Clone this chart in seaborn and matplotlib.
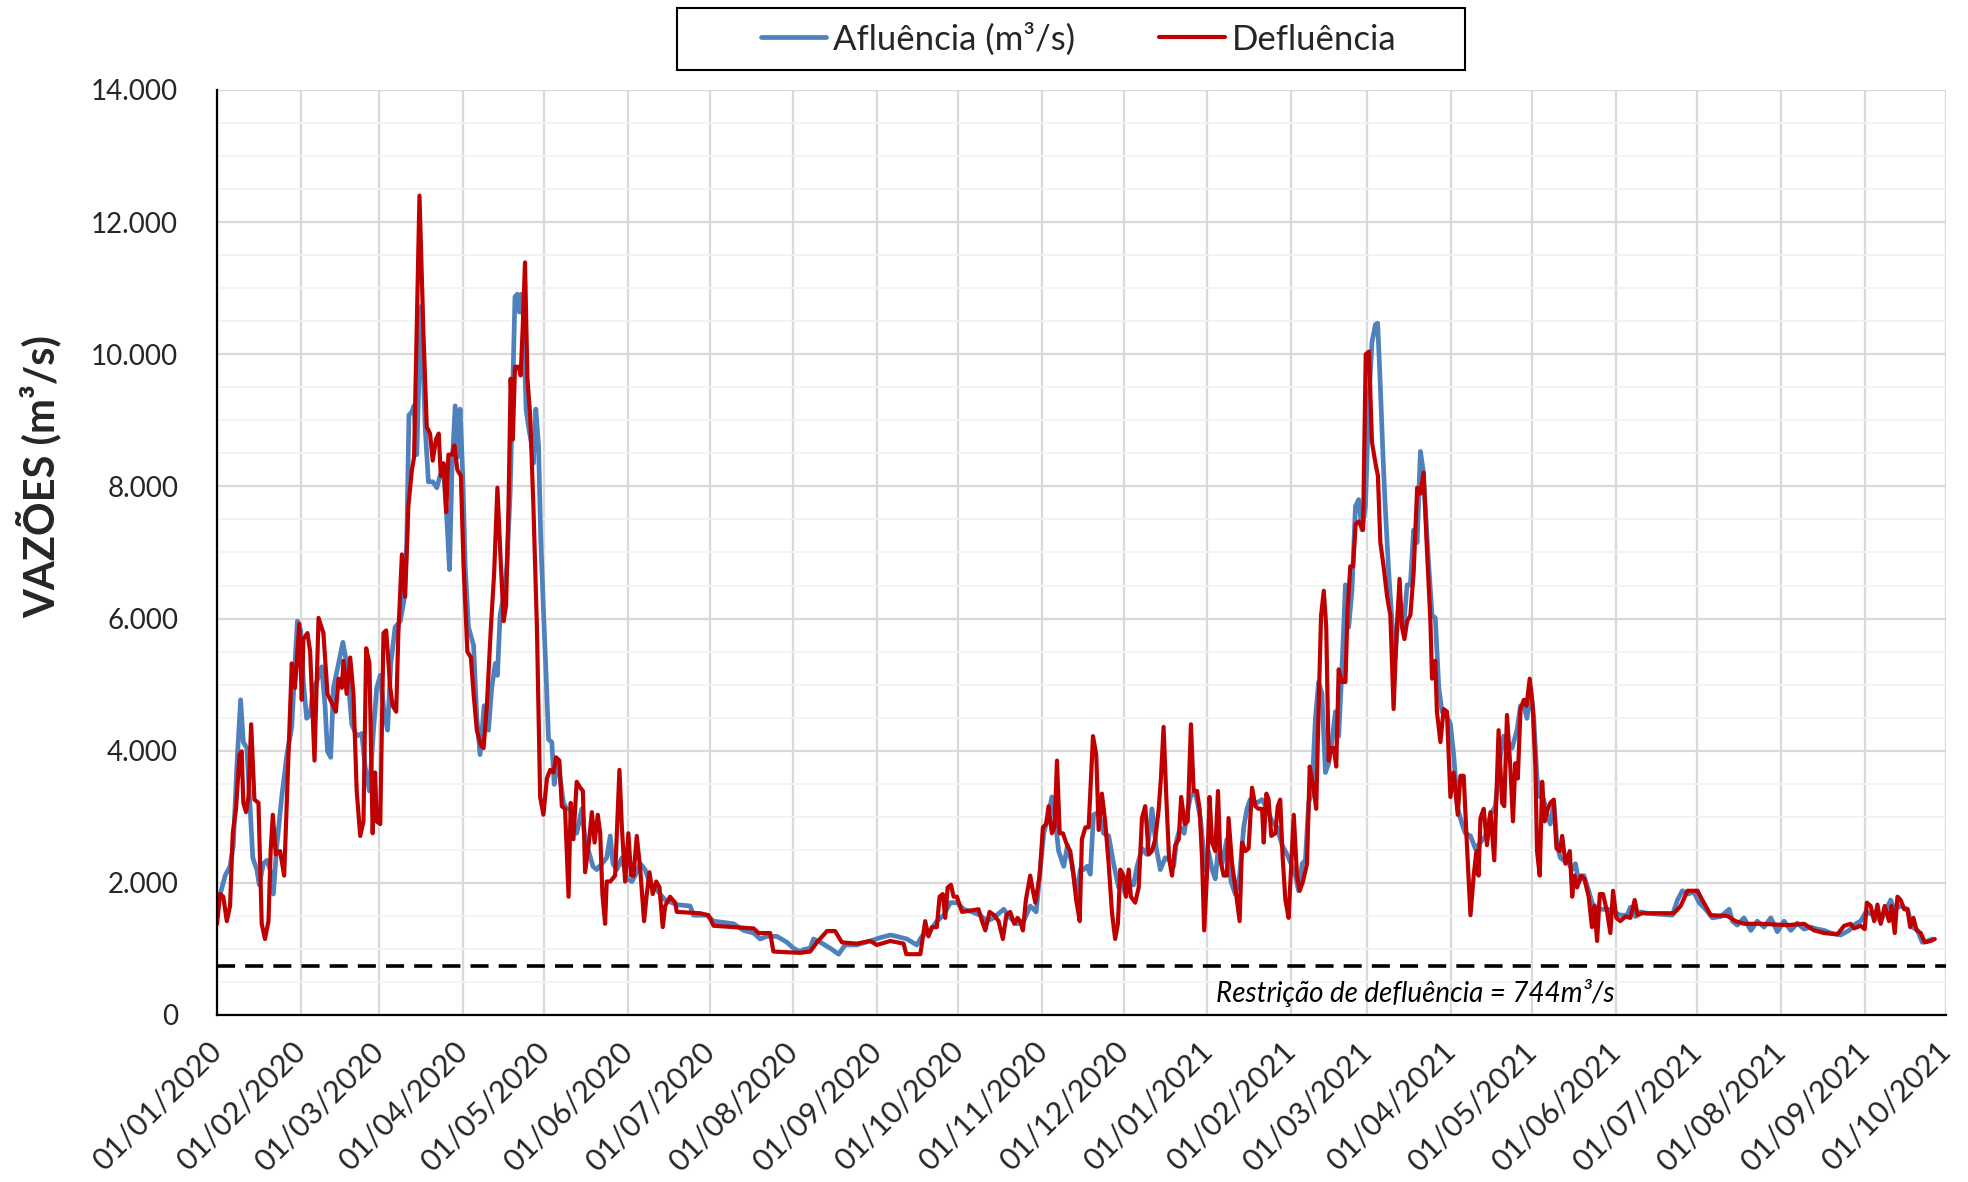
import pandas as pd
import matplotlib
import matplotlib.pyplot as plt
import matplotlib.dates as mdates
import seaborn as sns
from matplotlib.ticker import FuncFormatter, MultipleLocator
from matplotlib.patches import Rectangle

matplotlib.use('Agg')

# ==========================================
# DADOS (dias desde 01/01/2020, vazões em m³/s)
# ==========================================
INICIO = "2020-01-01"
RESTRICAO = 744

dias_afl = [
    0, 3.0, 4.8, 6.0, 7.3, 8.7, 9.7, 11.0, 12.0, 13.2, 14.7, 15.6, 17.1, 18.4, 19.6, 20.8,
    22.1, 23.9, 25.8, 27.6, 28.8, 29.7, 30.9, 31.9, 33.1, 34.4, 35.6, 36.8, 38.7, 39.9, 40.8,
    42.0, 43.0, 44.9, 46.5, 47.9, 49.8, 51.6, 53.5, 54.7, 56.3, 57.8, 59.0, 60.3, 61.7, 63.0,
    64.2, 65.8, 67.7, 69.1, 70.1, 70.9, 72.0, 72.8, 73.8, 74.8, 75.5, 76.9, 78.1, 79.7, 81.2,
    82.4, 83.7, 84.9, 85.9, 86.8, 88.0, 88.8, 89.8, 90.8, 91.7, 92.9, 94.8, 96.0, 97.2, 98.7,
    100.3, 101.5, 102.8, 103.6, 104.6, 105.9, 107.1, 108.3, 109.3, 110.1, 111.0, 111.7, 112.5,
    113.2, 114.2, 115.1, 116.3, 116.9, 117.8, 118.8, 119.6, 120.6, 121.6, 122.5, 123.7, 124.6,
    125.5, 126.8, 128.0, 129.2, 130.5, 131.7, 132.9, 134.8, 136.0, 137.3, 138.9, 140.3, 142.2,
    144.0, 145.3, 146.3, 147.7, 149.6, 151.4, 153.3, 154.5, 156.4, 158.2, 160.1, 161.9, 163.7,
    165.6, 168.1, 169.9, 174.8, 176.1, 181.0, 183.5, 190.9, 194.6, 198.3, 200.7, 203.2, 206.9,
    210.6, 213.0, 215.5, 216.7, 219.2, 220.4, 222.9, 226.6, 229.7, 232.1, 236.4, 241.4, 245.1,
    248.8, 251.2, 254.9, 258.6, 260.5, 263.6, 266.0, 268.5, 271.0, 273.4, 275.9, 279.0, 282.0,
    284.5, 287.0, 290.7, 293.1, 295.6, 298.1, 300.5, 302.7, 304.2, 305.5, 307.3, 308.5, 309.8,
    311.0, 312.9, 314.3, 315.9, 317.8, 319.0, 320.2, 321.5, 322.7, 323.9, 325.8, 327.6, 329.5,
    331.3, 333.2, 334.4, 335.6, 336.9, 338.7, 340.0, 341.8, 343.6, 345.5, 347.1, 348.6, 350.4,
    352.0, 353.5, 354.7, 356.0, 357.4, 358.4, 359.7, 361.5, 363.4, 365.2, 366.4, 367.7, 368.9,
    370.1, 371.4, 373.2, 374.7, 376.3, 377.9, 379.4, 380.6, 381.8, 384.3, 386.2, 388.0, 389.9,
    391.7, 393.6, 395.4, 396.9, 398.5, 399.7, 401.0, 402.2, 403.4, 404.6, 405.9, 407.1, 408.3,
    409.6, 410.8, 412.0, 413.3, 414.5, 415.7, 417.0, 418.2, 419.4, 420.7, 421.9, 423.1, 424.4,
    425.6, 426.8, 428.1, 428.9, 429.7, 430.9, 431.7, 433.0, 434.2, 435.4, 436.7, 438.5, 439.8,
    441.0, 442.2, 443.5, 444.7, 445.7, 446.5, 447.8, 449.0, 450.2, 451.5, 452.7, 453.9, 455.8,
    457.0, 458.5, 460.1, 461.3, 463.2, 465.0, 466.9, 468.7, 470.6, 472.4, 474.3, 475.5, 477.0,
    478.6, 480.4, 481.7, 482.9, 484.1, 485.4, 486.6, 487.8, 489.0, 490.3, 491.5, 492.7, 494.0,
    495.2, 496.4, 497.7, 498.9, 500.8, 502.0, 503.2, 505.1, 506.9, 508.1, 510.0, 512.5, 514.3,
    516.2, 518.6, 521.1, 522.3, 524.2, 526.0, 528.5, 537.8, 539.7, 541.5, 543.4, 545.8, 547.7,
    550.1, 552.6, 555.7, 558.8, 560.0, 561.8, 564.3, 566.8, 569.2, 571.7, 574.2, 576.6, 579.1,
    581.6, 584.0, 586.5, 589.0, 591.4, 593.9, 596.3, 600.0, 603.1, 605.6, 607.4, 609.3, 612.4,
    614.8, 618.5, 619.8, 622.2, 624.7, 626.5, 628.4, 630.2, 632.1, 633.9,
]
vazao_afl = [
    1650, 2110, 2250, 2570, 3760, 4770, 4130, 4040, 3300, 2380, 2200, 1970, 2290, 2340, 2200, 1830,
    2570, 3300, 3940, 4360, 5320, 5960, 5820, 5040, 4490, 4540, 4950, 5040, 5270, 4680, 3990,
    3900, 4950, 5320, 5640, 5320, 4400, 4220, 4260, 3760, 3390, 4310, 4950, 5140, 4590, 4310,
    5320, 5870, 5960, 6280, 7150, 9080, 9130, 9220, 8480, 9900, 10730, 8900, 8070, 8070, 7980,
    8160, 8250, 7520, 6740, 8250, 9220, 8440, 9170, 8160, 6790, 5870, 5590, 4490, 3940, 4680,
    4310, 4950, 5320, 5140, 6050, 6330, 6790, 7890, 9540, 10870, 10910, 10640, 10910,
    10550, 9170, 8900, 8620, 8350, 9170, 8620, 7250, 6140, 5140, 4170, 4130, 3490,
    3850, 3580, 3210, 3120, 3120, 2840, 2750, 3120, 2660, 2480, 2250, 2200, 2290,
    2380, 2710, 2290, 2200, 2380, 2060, 2020, 2110, 2290, 2200, 1970, 1930, 1830,
    1740, 1700, 1670, 1650, 1510, 1510, 1420, 1380, 1280, 1240, 1150, 1190, 1190,
    1100, 1010, 960, 990, 1010, 1150, 1100, 1010, 920, 1060, 1060, 1120, 1170,
    1210, 1190, 1150, 1060, 1190, 1280, 1420, 1510, 1700, 1700, 1600, 1560, 1510,
    1420, 1470, 1600, 1470, 1380, 1420, 1650, 1560, 2200, 2750, 3030, 3300, 2930,
    2480, 2250, 2570, 2290, 1790, 2200, 2200, 2250, 2130, 3030, 3070, 2750, 2710,
    2290, 1930, 2020, 1830, 1970, 1970, 2250, 2520, 2430, 3120, 2520, 2200, 2380,
    2340, 2250, 2660, 2840, 2750, 3030, 3300, 3390, 2980, 2200, 2480, 2200, 2060,
    2570, 2290, 2660, 2020, 1830, 2110, 2840, 3120, 3260, 3210, 3260, 3120, 2930,
    2840, 2570, 2430, 2290, 2110, 1880, 2290, 2340, 3210, 3390, 4490, 5040, 4860,
    3670, 3810, 4130, 4590, 4220, 5230, 6510, 5870, 6420, 7700, 7800, 7340, 7700,
    9260, 10180, 10450, 10470, 9720, 8440, 7700, 6690, 5960, 5410, 6240, 5870, 6510,
    6510, 7340, 7150, 8530, 8250, 7700, 6790, 6050, 6010, 4950, 4590, 4590, 4400,
    3940, 3120, 2890, 2750, 2710, 2520, 2610, 2710, 3030, 3160, 3940, 4220, 4130,
    4040, 4310, 4680, 4680, 4490, 4950, 4490, 3580, 3300, 3260, 3030, 2890, 3210,
    2570, 2380, 2340, 2340, 2200, 2290, 2020, 2110, 1880, 1700, 1600, 1600, 1600,
    1560, 1510, 1510, 1630, 1490, 1560, 1540, 1510, 1740, 1880, 1830, 1860, 1700,
    1600, 1470, 1490, 1600, 1420, 1360, 1470, 1280, 1420, 1330, 1470, 1260, 1420,
    1280, 1390, 1300, 1330, 1300, 1280, 1240, 1210, 1280, 1380, 1420, 1560, 1510,
    1420, 1740, 1600, 1650, 1600, 1330, 1280, 1100, 1120, 1150,
]

dias_defl = [
    0, 1.1, 2.3, 3.6, 4.8, 5.8, 7.0, 8.3, 9.1, 9.7, 10.7, 11.6, 12.6, 13.8, 15.3, 16.5, 17.7,
    19.0, 19.8, 20.6, 21.7, 23.3, 24.8, 26.4, 27.6, 28.8, 30.4, 31.3, 31.9, 33.4, 34.4, 36.0,
    37.5, 39.3, 40.8, 42.4, 43.9, 44.9, 46.1, 46.7, 47.9, 49.2, 50.4, 51.6, 52.9, 54.1, 55.1,
    56.3, 57.5, 58.4, 59.0, 60.3, 61.5, 62.5, 64.0, 64.9, 66.2, 67.0, 68.3, 69.5, 70.7, 72.0,
    72.8, 73.8, 74.8, 76.3, 77.5, 78.7, 79.7, 80.9, 81.9, 82.7, 83.7, 84.7, 85.5, 86.8, 87.7,
    88.8, 90.1, 91.1, 92.5, 93.8, 94.8, 96.0, 97.5, 98.5, 99.7, 101.2, 102.4, 103.6, 104.6,
    105.9, 106.8, 107.7, 108.5, 109.3, 110.1, 111.4, 112.2, 113.0, 113.8, 114.7, 115.7, 116.9,
    118.2, 119.4, 120.6, 121.9, 123.1, 124.3, 125.3, 126.5, 127.4, 128.6, 129.9, 130.7, 131.7,
    132.9, 134.2, 135.2, 136.0, 137.3, 138.5, 139.5, 140.7, 141.6, 142.4, 143.4, 144.0, 145.3,
    147.1, 148.7, 149.6, 150.8, 152.0, 153.0, 153.9, 155.1, 156.4, 157.8, 158.8, 159.8, 161.0,
    162.3, 163.5, 164.7, 165.6, 167.4, 169.3, 169.9, 178.5, 181.6, 183.5, 190.9, 198.3, 200.1,
    204.4, 205.6, 215.5, 219.2, 221.7, 225.4, 228.4, 230.9, 236.4, 241.4, 243.8, 248.8, 253.7,
    254.7, 259.9, 261.7, 262.9, 264.2, 266.0, 267.0, 268.2, 269.1, 270.0, 271.2, 272.2, 273.4,
    275.3, 278.3, 281.4, 282.7, 283.9, 285.5, 287.2, 288.8, 290.4, 291.7, 293.1, 294.6, 295.8,
    296.8, 297.8, 298.9, 300.5, 301.5, 302.4, 304.0, 305.2, 306.4, 307.3, 308.5, 309.5, 310.4,
    311.4, 312.6, 314.1, 315.3, 316.5, 317.5, 318.8, 319.6, 320.9, 322.1, 323.7, 324.9, 325.8,
    327.0, 328.2, 329.5, 330.7, 331.9, 332.9, 333.8, 335.0, 335.9, 336.9, 337.7, 339.3, 340.6,
    341.8, 343.0, 344.3, 345.5, 346.7, 348.0, 348.8, 349.8, 350.8, 351.8, 352.9, 354.1, 355.4,
    356.3, 357.6, 358.7, 359.9, 360.9, 362.1, 363.1, 364.0, 364.8, 365.8, 366.8, 367.7, 368.9,
    369.9, 370.8, 372.0, 373.2, 373.8, 375.1, 376.3, 377.9, 378.8, 380.0, 381.2, 382.5, 383.7,
    384.9, 386.2, 386.8, 387.8, 388.6, 389.6, 391.1, 392.0, 392.9, 393.8, 394.8, 396.0, 396.9,
    397.9, 399.1, 400.1, 401.3, 402.8, 403.8, 405.0, 406.2, 407.1, 408.0, 409.0, 409.9, 410.8,
    411.7, 412.7, 413.6, 414.5, 415.7, 417.0, 417.8, 418.8, 419.8, 420.8, 421.9, 423.5, 424.5,
    425.7, 426.8, 428.1, 429.0, 429.9, 431.1, 432.4, 433.6, 434.8, 435.8, 437.0, 437.9, 438.8,
    439.8, 441.0, 442.2, 443.5, 444.7, 445.9, 447.1, 448.4, 449.0, 450.2, 450.8, 452.1, 453.3,
    454.5, 455.8, 457.0, 458.5, 459.5, 460.7, 461.9, 463.2, 464.4, 465.4, 466.2, 466.9, 468.1,
    469.3, 470.6, 472.0, 473.6, 474.9, 475.7, 476.7, 478.0, 478.9, 479.8, 480.7, 481.7, 482.9,
    483.9, 485.1, 486.2, 487.2, 487.8, 488.8, 489.7, 490.6, 491.8, 492.7, 494.0, 495.0, 496.2,
    497.1, 498.3, 499.9, 500.8, 501.6, 502.6, 504.1, 505.3, 506.9, 508.1, 509.0, 510.0, 511.0,
    512.2, 513.7, 514.9, 515.9, 517.1, 518.6, 520.5, 522.3, 523.9, 525.0, 526.6, 538.4, 540.9,
    543.4, 547.1, 548.9, 552.0, 558.1, 561.2, 564.3, 570.5, 580.3, 586.5, 590.2, 593.9, 598.8,
    601.3, 603.7, 605.0, 607.4, 608.9, 609.7, 611.1, 612.4, 613.6, 614.8, 616.3, 617.9, 618.8,
    620.0, 621.0, 622.2, 623.5, 624.7, 625.7, 626.9, 628.1, 629.6, 631.1, 633.3, 634.8,
]
vazao_defl = [
    1380, 1830, 1790, 1420, 1650, 2750, 3120, 3940, 3990, 3210, 3070, 3300, 4400, 3260, 3210, 1380, 1150,
    1420, 2480, 3030, 2430, 2480, 2110, 3940, 5320, 4950, 5920, 4770, 5690, 5780, 5500, 3850,
    6010, 5780, 4860, 4720, 4590, 5090, 4950, 5360, 4860, 5410, 4860, 3390, 2710, 2930, 5550,
    5320, 2750, 3670, 2930, 2890, 5780, 5820, 4950, 4680, 4590, 5780, 6970, 6330, 7700, 8250,
    8440, 10450, 12400, 10270, 8900, 8800, 8390, 8710, 8800, 8160, 8350, 7610, 8480, 8480, 8620,
    8250, 8160, 6790, 5500, 5410, 4860, 4310, 4080, 4040, 4680, 5870, 6690, 7980, 7060,
    5960, 6200, 7700, 9630, 8710, 9810, 9810, 9680, 10450, 11390, 9630, 9080, 7700,
    5870, 3300, 3030, 3580, 3710, 3670, 3900, 3850, 3160, 3120, 1790, 3210, 2660,
    3530, 3440, 3390, 2160, 2570, 3070, 2610, 3030, 2750, 1830, 1380, 2020, 2020,
    2110, 3710, 2840, 2020, 2750, 2110, 2110, 2710, 2200, 1420, 1830, 2160, 1830,
    2020, 1930, 1330, 1650, 1790, 1700, 1560, 1540, 1510, 1350, 1330, 1310, 1240,
    1240, 960, 940, 960, 1100, 1270, 1270, 1100, 1080, 1120, 1060, 1120, 1080,
    920, 920, 1420, 1190, 1330, 1330, 1790, 1830, 1470, 1930, 1970, 1790, 1790,
    1560, 1580, 1600, 1420, 1280, 1560, 1510, 1420, 1150, 1510, 1560, 1380, 1470,
    1420, 1280, 1740, 2110, 1880, 1700, 2110, 2840, 2890, 3160, 2750, 2840, 3850,
    2750, 2750, 2570, 2480, 2110, 1740, 1420, 2660, 2840, 2840, 4220, 3940, 2800,
    3350, 2930, 2290, 1560, 1150, 1380, 2200, 2110, 1790, 2200, 1790, 1700, 1930,
    2980, 3160, 2430, 2480, 2660, 3120, 3580, 4360, 3300, 2380, 2110, 2570, 2660,
    3300, 2890, 2930, 4400, 3390, 3390, 3120, 2380, 1280, 2110, 3300, 2610, 2480,
    3390, 2340, 2110, 2110, 2980, 2290, 1930, 1420, 2610, 2480, 2520, 3440, 3160,
    3120, 3120, 2610, 3350, 3260, 2710, 2750, 3160, 3260, 2380, 1740, 1470, 2200,
    3030, 2110, 1880, 2020, 2290, 3760, 3490, 3120, 4680, 6050, 6420, 5870, 3850,
    4040, 4040, 3760, 5230, 5040, 5040, 6140, 6790, 6790, 7430, 7470, 7340, 10000,
    10040, 8670, 8350, 8160, 7150, 6790, 6330, 6050, 4630, 5690, 6600, 5870, 5690,
    5960, 6050, 6690, 7980, 7890, 8210, 7060, 5960, 5090, 5360, 4590, 4130, 4630,
    4590, 3300, 3670, 3030, 3620, 3620, 2570, 1510, 2110, 2480, 2110, 2980, 3120,
    2570, 3070, 2340, 4310, 3210, 3160, 4540, 3710, 2930, 3810, 3580, 4630, 4770,
    4680, 5090, 4680, 3760, 2480, 2110, 3530, 2930, 3120, 3210, 3260, 2520, 2480,
    2710, 2290, 2480, 1790, 2110, 1930, 2110, 2060, 1790, 1330, 1650, 1120, 1830,
    1830, 1560, 1240, 1880, 1470, 1420, 1490, 1470, 1740, 1510, 1540, 1540, 1650,
    1880, 1880, 1740, 1510, 1500, 1420, 1380, 1380, 1360, 1380, 1280, 1240, 1220,
    1350, 1380, 1310, 1350, 1300, 1700, 1650, 1420, 1670, 1380, 1650, 1420, 1650,
    1240, 1790, 1740, 1600, 1600, 1330, 1470, 1280, 1240, 1100, 1120, 1150,
]

ROTULO_AFL = "Afluência (m³/s)"
ROTULO_DEFL = "Defluência"
COR_AFL = "#4F81BD"
COR_DEFL = "#C00000"


def montar_df(dias, vazoes):
    datas = pd.Timestamp(INICIO) + pd.to_timedelta(dias, unit="D")
    return pd.DataFrame({"data": datas, "vazao": vazoes})


df_afl = montar_df(dias_afl, vazao_afl)
df_defl = montar_df(dias_defl, vazao_defl)

# ==========================================
# GRÁFICO
# ==========================================
sns.set_theme(style="white")
plt.rcParams['font.family'] = ['Lato', 'DejaVu Sans']

fig = plt.figure(figsize=(19.68, 11.82), dpi=100)
ax = fig.add_axes([0.1103, 0.1413, 0.8786, 0.7826])

sns.lineplot(data=df_afl, x="data", y="vazao", ax=ax, color=COR_AFL, linewidth=3.4,
             estimator=None, sort=False, label=ROTULO_AFL)
sns.lineplot(data=df_defl, x="data", y="vazao", ax=ax, color=COR_DEFL, linewidth=3.0,
             estimator=None, sort=False, label=ROTULO_DEFL)

ax.axhline(RESTRICAO, color="black", linewidth=2.6, linestyle=(0, (5, 2.8)), zorder=1)
ax.text(pd.Timestamp("2021-03-19"), 330, f"Restrição de defluência = {RESTRICAO}m³/s",
        ha="center", va="center", fontsize=20, style="italic", color="black")

ax.set_xlim(pd.Timestamp("2020-01-01"), pd.Timestamp("2021-10-01"))
ax.set_ylim(0, 14000)
ax.yaxis.set_major_locator(MultipleLocator(2000))
ax.yaxis.set_minor_locator(MultipleLocator(500))
ax.yaxis.set_major_formatter(FuncFormatter(lambda v, p: f"{v:,.0f}".replace(",", ".")))
ax.xaxis.set_major_locator(mdates.MonthLocator(bymonthday=1))
ax.xaxis.set_major_formatter(mdates.DateFormatter("%d/%m/%Y"))

ax.grid(True, which="major", color="#D9D9D9", linewidth=1.6)
ax.grid(True, which="minor", axis="y", color="#F2F2F2", linewidth=1.3)
ax.set_axisbelow(True)

for s in ["top", "right"]:
    ax.spines[s].set_visible(False)
for s in ["left", "bottom"]:
    ax.spines[s].set_color("black")
    ax.spines[s].set_linewidth(1.6)

ax.tick_params(axis="x", direction="inout", length=14, width=1.5, labelsize=22, pad=16)
ax.tick_params(axis="y", direction="in", length=8, width=1.5, labelsize=20, pad=28)
ax.tick_params(axis="y", which="minor", length=0)
plt.setp(ax.get_xticklabels(), rotation=45, ha="right", va="center", rotation_mode="anchor")

ax.set_xlabel("")
ax.set_ylabel("")
fig.text(0.020, 0.597, "VAZÕES (m³/s)", rotation=90, ha="center", va="center",
         fontsize=30, fontweight="bold")

# legenda com moldura preta no topo
ax.get_legend().remove()
fig.patches.append(Rectangle((677 / 1968, 1 - 70 / 1182), 788 / 1968, 62 / 1182,
                             transform=fig.transFigure, fill=False, edgecolor="black",
                             linewidth=1.5))
handles, labels = ax.get_legend_handles_labels()
fig.legend(handles, labels, loc="center", bbox_to_anchor=(0.548, 0.967), ncol=2,
           frameon=False, fontsize=25, handlelength=1.9, columnspacing=2.4,
           handletextpad=0.2)

plt.savefig("out.png", dpi=100)
